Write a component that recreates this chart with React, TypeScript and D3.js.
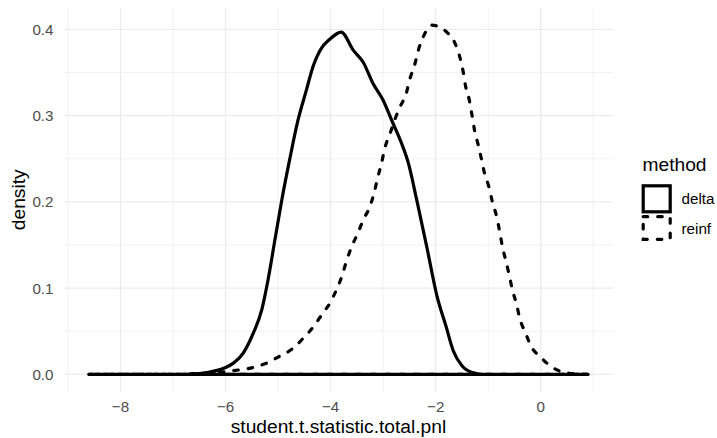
import React from "react";
import * as d3 from "d3";

const deltaX = [-8.6, -7.0, -6.5, -6.2, -6.0, -5.85, -5.66, -5.47, -5.31, -5.19, -5.06, -4.93, -4.78, -4.62, -4.46, -4.33, -4.2, -4.01, -3.8, -3.57, -3.38, -3.19, -3.0, -2.84, -2.65, -2.52, -2.36, -2.17, -1.98, -1.8, -1.67, -1.5, -1.3, -1.1, 0.9];
const deltaY = [0, 0, 0.001, 0.004, 0.008, 0.013, 0.025, 0.048, 0.075, 0.11, 0.156, 0.202, 0.249, 0.295, 0.33, 0.358, 0.376, 0.389, 0.397, 0.376, 0.362, 0.337, 0.318, 0.295, 0.268, 0.245, 0.202, 0.148, 0.092, 0.055, 0.028, 0.01, 0.002, 0, 0];

const reinfX = [-8.6, -7.0, -6.5, -6.0, -5.76, -5.47, -5.22, -4.97, -4.74, -4.52, -4.33, -4.17, -4.01, -3.89, -3.79, -3.7, -3.6, -3.48, -3.38, -3.25, -3.17, -3.1, -3.03, -2.97, -2.87, -2.78, -2.68, -2.56, -2.49, -2.4, -2.33, -2.24, -2.07, -1.9, -1.79, -1.64, -1.54, -1.48, -1.43, -1.36, -1.31, -1.26, -1.19, -1.13, -1.07, -0.99, -0.92, -0.84, -0.78, -0.73, -0.67, -0.6, -0.54, -0.46, -0.4, -0.29, -0.18, -0.02, 0.2, 0.46, 0.7, 0.9];
const reinfY = [0, 0, 0.001, 0.003, 0.005, 0.008, 0.013, 0.021, 0.029, 0.042, 0.055, 0.069, 0.083, 0.098, 0.113, 0.131, 0.148, 0.164, 0.179, 0.195, 0.211, 0.229, 0.245, 0.262, 0.279, 0.295, 0.31, 0.326, 0.343, 0.359, 0.376, 0.391, 0.405, 0.402, 0.397, 0.385, 0.368, 0.352, 0.334, 0.318, 0.301, 0.283, 0.266, 0.25, 0.233, 0.218, 0.2, 0.183, 0.165, 0.148, 0.133, 0.115, 0.098, 0.081, 0.065, 0.048, 0.032, 0.021, 0.009, 0.002, 0.0005, 0];

const methods = ["delta", "reinf"];
const xTicks = [-8, -6, -4, -2, 0];
const xMinor = [-9, -7, -5, -3, -1, 1];
const yTicks = [0, 0.1, 0.2, 0.3, 0.4];
const yMinor = [0.05, 0.15, 0.25, 0.35];

const W = 717, H = 438;
const panel = { left: 64, right: 613, top: 7.7, bottom: 391.8 };
const FONT = "'Liberation Sans', Arial, Helvetica, sans-serif";
const TICK = 15.2;
const TITLE = 19.2;

export default function App() {
  const xmin = -8.6, xmax = 0.9;
  const xr = xmax - xmin;
  const x = d3.scaleLinear().domain([xmin - 0.05 * xr, xmax + 0.05 * xr]).range([panel.left, panel.right]);
  const ymaxD = 0.405;
  const y = d3.scaleLinear().domain([-0.05 * ymaxD, ymaxD * 1.05]).range([panel.bottom, panel.top]);

  const line = d3.line<[number, number]>().x(d => x(d[0])).y(d => y(d[1])).curve(d3.curveMonotoneX);
  const series = [
    { xs: deltaX, ys: deltaY, dash: undefined as string | undefined },
    { xs: reinfX, ys: reinfY, dash: "4.5 10" },
  ];

  const paths = series.map(s => {
    const pts: [number, number][] = s.xs.map((v, i) => [v, s.ys[i]]);
    const p = line(pts) as string;
    return p + `L${x(s.xs[0])},${y(0)}Z`;
  });

  return (
    <svg width={W} height={H} style={{ position: "absolute", left: 0, top: 0, display: "block", background: "#fff" }} fontFamily={FONT}>
      <rect x={0} y={0} width={W} height={H} fill="#fff" />
      {xMinor.map(v => (
        <line key={"xm" + v} x1={x(v)} x2={x(v)} y1={panel.top} y2={panel.bottom} stroke="#EBEBEB" strokeWidth={0.7} />
      ))}
      {yMinor.map(v => (
        <line key={"ym" + v} x1={panel.left} x2={panel.right} y1={y(v)} y2={y(v)} stroke="#EBEBEB" strokeWidth={0.7} />
      ))}
      {xTicks.map(v => (
        <line key={"xM" + v} x1={x(v)} x2={x(v)} y1={panel.top} y2={panel.bottom} stroke="#EBEBEB" strokeWidth={1.3} />
      ))}
      {yTicks.map(v => (
        <line key={"yM" + v} x1={panel.left} x2={panel.right} y1={y(v)} y2={y(v)} stroke="#EBEBEB" strokeWidth={1.3} />
      ))}
      <path d={paths[1]} fill="none" stroke="#000" strokeWidth={3.2} strokeDasharray={series[1].dash} strokeLinecap="round" />
      <path d={paths[0]} fill="none" stroke="#000" strokeWidth={3.2} strokeLinejoin="round" />
      {xTicks.map(v => (
        <text key={"xt" + v} x={x(v)} y={412} textAnchor="middle" fontSize={TICK} fill="#4D4D4D">
          {v < 0 ? "\u2212" + Math.abs(v) : String(v)}
        </text>
      ))}
      {yTicks.map(v => (
        <text key={"yt" + v} x={53.5} y={y(v) + 5.4} textAnchor="end" fontSize={TICK} fill="#4D4D4D">
          {v.toFixed(1)}
        </text>
      ))}
      <text x={(panel.left + panel.right) / 2} y={433} textAnchor="middle" fontSize={TITLE} fill="#000">
        student.t.statistic.total.pnl
      </text>
      <text transform={`translate(24.5,${(panel.top + panel.bottom) / 2}) rotate(-90)`} textAnchor="middle" fontSize={TITLE} fill="#000">
        density
      </text>
      <text x={642.5} y={171} fontSize={TITLE} fill="#000">method</text>
      <rect x={643.2} y={185.8} width={27} height={26} fill="#fff" stroke="#000" strokeWidth={3.2} />
      <rect x={643.2} y={216.7} width={27} height={22.6} fill="#fff" stroke="#000" strokeWidth={3.2} strokeDasharray="4.5 10" strokeLinecap="round" />
      <text x={681.5} y={203.5} fontSize={TICK} fill="#000">{methods[0]}</text>
      <text x={681.5} y={233.5} fontSize={TICK} fill="#000">{methods[1]}</text>
    </svg>
  );
}
